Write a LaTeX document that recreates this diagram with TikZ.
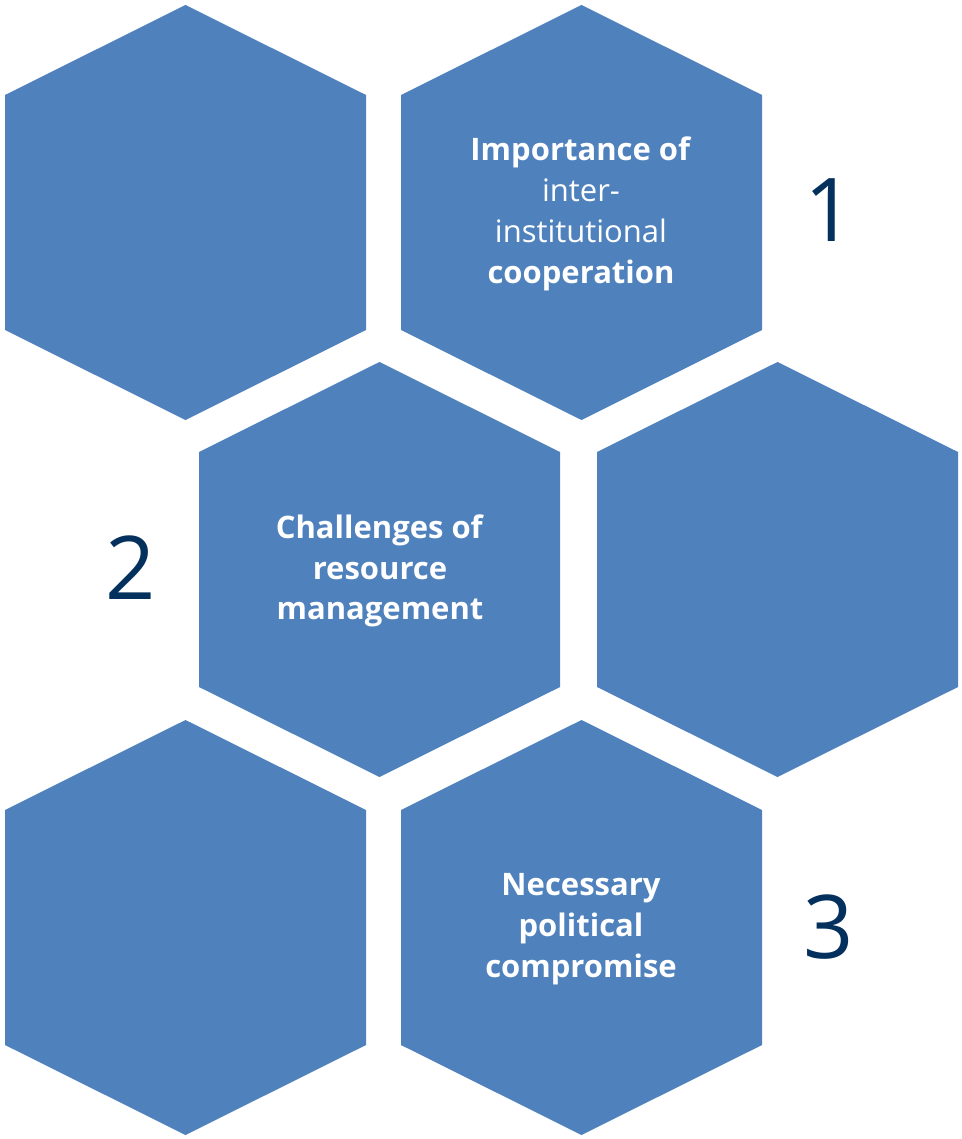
\documentclass[tikz,border=0pt]{standalone}
\usepackage{fontspec}
\setmainfont{Open Sans}
\definecolor{hexblue}{HTML}{4F81BD}
\definecolor{numblue}{HTML}{04305E}
\newcommand{\hexshape}[2]{%
  \fill[hexblue] (#1,#2-207.5) -- (#1+180.5,#2-117.5) -- (#1+180.5,#2+117.5) -- (#1,#2+207.5) -- (#1-180.5,#2+117.5) -- (#1-180.5,#2-117.5) -- cycle;}
\begin{document}
\begin{tikzpicture}[x=1pt,y=-1pt,
  hextext/.style={text=white, align=center, font=\fontsize{31}{40.8}\selectfont, inner sep=0pt},
  numtext/.style={text=numblue, font=\fontsize{88}{92}\selectfont, inner sep=0pt}]
\useasboundingbox (0,0) rectangle (961,1139);
\hexshape{185.5}{212.5}
\hexshape{581.5}{212.5}
\hexshape{379.5}{569.5}
\hexshape{777.5}{569.5}
\hexshape{185.5}{927.5}
\hexshape{581.5}{927.5}
\node[hextext] (t1) at (581,214) {\textbf{Importance of}\\inter-\\institutional\\\textbf{cooperation}};
\node[hextext] (t2) at (380,571) {\textbf{Challenges of}\\\textbf{resource}\\\textbf{management}};
\node[hextext] (t3) at (581,929) {\textbf{Necessary}\\\textbf{political}\\\textbf{compromise}};
\node[numtext] (n1) at (830,210) {1};
\node[numtext] (n2) at (131,568) {2};
\node[numtext] (n3) at (829,927) {3};
\end{tikzpicture}
\end{document}
